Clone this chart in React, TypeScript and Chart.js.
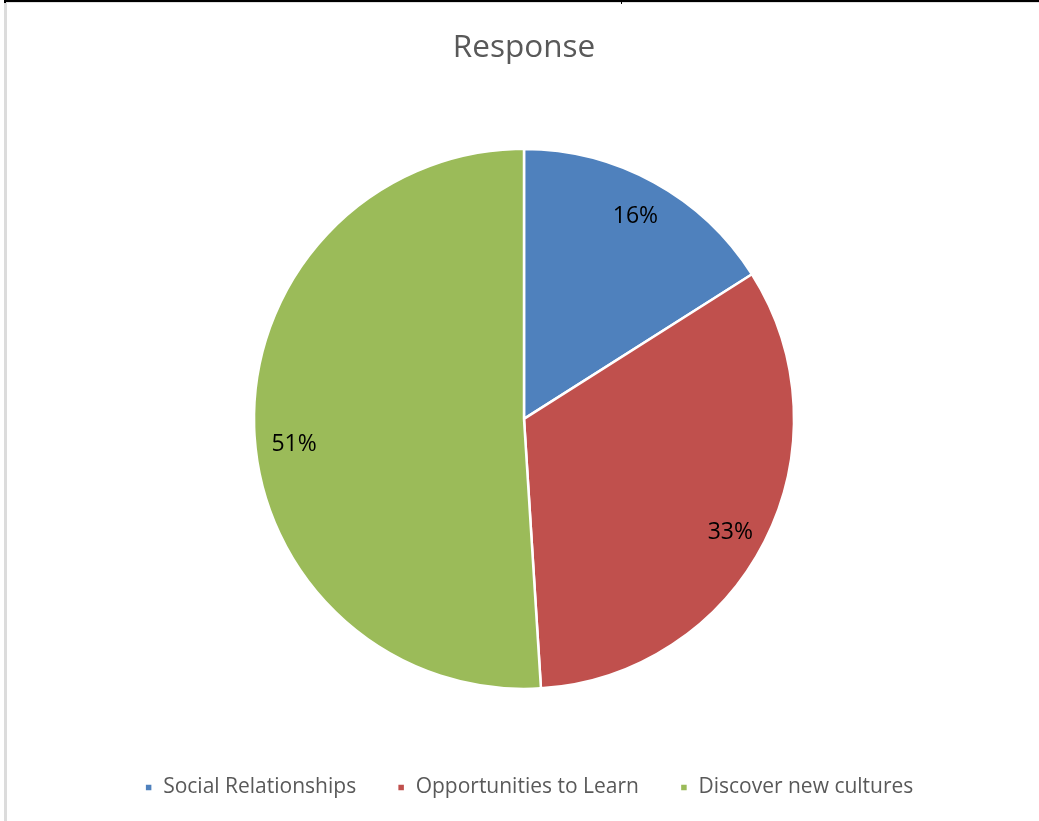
import React, { useEffect, useRef } from "react";
import { Chart, registerables } from "chart.js";

Chart.register(...registerables);

const TITLE = "Response";
const CATEGORIES = ["Social Relationships", "Opportunities to Learn", "Discover new cultures"];
const VALUES = [16, 33, 51];
const PERCENT_LABELS = ["16%", "33%", "51%"];
const COLORS = ["#4F81BD", "#C0504D", "#9BBB59"];

const FONT = "'Open Sans', 'Liberation Sans', sans-serif";

const sliceLabels = {
  id: "sliceLabels",
  afterDatasetsDraw(chart: any, _args: any, opts: any) {
    const meta = chart.getDatasetMeta(0);
    const ctx = chart.ctx;
    const shifts: number[] = opts.angleShift || [];
    ctx.save();
    ctx.font = `23px ${FONT}`;
    ctx.fillStyle = "#000000";
    ctx.textAlign = "center";
    ctx.textBaseline = "middle";
    meta.data.forEach((arc: any, i: number) => {
      const { x, y, startAngle, endAngle, outerRadius } = arc.getProps(
        ["x", "y", "startAngle", "endAngle", "outerRadius"],
        true
      );
      const mid = (startAngle + endAngle) / 2 + ((shifts[i] || 0) * Math.PI) / 180;
      const r = outerRadius * (i === 1 ? 0.872 : 0.857);
      ctx.fillText(PERCENT_LABELS[i], x + Math.cos(mid) * r, y + Math.sin(mid) * r);
    });
    ctx.restore();
  },
};

const legendShift = {
  id: "legendShift",
  afterLayout(chart: any) {
    if (chart.legend) {
      chart.legend.left += 5;
      chart.legend.right += 5;
    }
  },
};

export default function App() {
  const ref = useRef<HTMLCanvasElement | null>(null);
  useEffect(() => {
    if (!ref.current) return;
    const chart = new Chart(ref.current, {
      type: "pie",
      data: {
        labels: CATEGORIES,
        datasets: [
          {
            data: VALUES,
            backgroundColor: COLORS,
            borderColor: "#ffffff",
            borderWidth: 2.5,
          },
        ],
      },
      options: {
        animation: false,
        responsive: false,
        radius: 270,
        layout: { padding: { left: 9, right: 0, top: 0, bottom: 13 } },
        plugins: {
          tooltip: { enabled: false },
          sliceLabels: { angleShift: [0, 1.8, -4.6] },
          title: {
            display: true,
            text: TITLE,
            color: "#595959",
            font: { family: FONT, size: 31.5, weight: "normal" },
            padding: { top: 29, bottom: 35 },
          },
          legend: {
            position: "bottom",
            labels: {
              color: "#595959",
              font: { family: FONT, size: 21 },
              boxWidth: 8,
              boxHeight: 8,
              padding: 41,
            },
          },
        },
      } as any,
      plugins: [sliceLabels, legendShift],
    });
    return () => chart.destroy();
  }, []);

  return (
    <div style={{ position: "absolute", left: 0, top: 0, width: 1039, height: 821, background: "#fff" }}>
      <canvas ref={ref} width={1039} height={821} style={{ position: "absolute", left: 0, top: 0 }} />
      <div style={{ position: "absolute", left: 4, top: 0, width: 1035, height: 2, background: "#000" }} />
      <div style={{ position: "absolute", left: 4, top: 2, width: 1035, height: 1, background: "#e0e0e0" }} />
      <div style={{ position: "absolute", left: 4, top: 0, width: 2, height: 3, background: "#000" }} />
      <div style={{ position: "absolute", left: 621, top: 0, width: 1, height: 4, background: "#000" }} />
      <div style={{ position: "absolute", left: 4, top: 3, width: 3, height: 818, background: "#dcdcdc" }} />
    </div>
  );
}
